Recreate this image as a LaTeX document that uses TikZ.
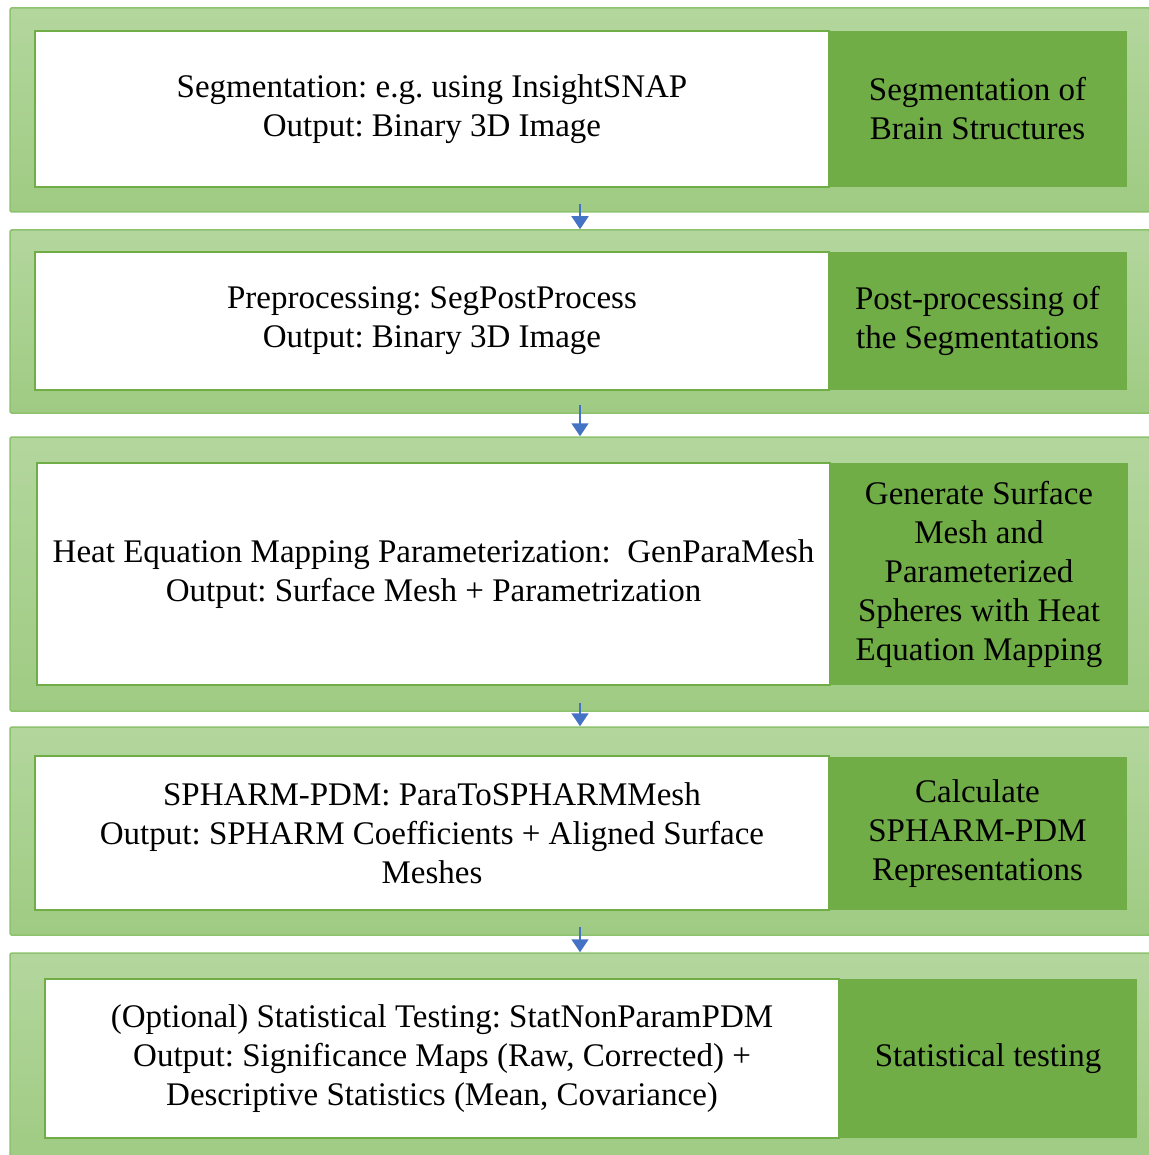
\documentclass[tikz,border=0pt]{standalone}
\usepackage{fontspec}
\setmainfont{Liberation Serif}
\usetikzlibrary{arrows.meta}
\definecolor{outerTop}{HTML}{B3D69D}
\definecolor{outerBot}{HTML}{9FCB83}
\definecolor{outerLine}{HTML}{8DC26F}
\definecolor{darkgreen}{HTML}{70AD47}
\definecolor{arrblue}{HTML}{4472C4}
\begin{document}
\frenchspacing
\begin{tikzpicture}[x=1pt,y=-1pt,
  outerbox/.style={inner sep=0pt, draw=outerLine, line width=1.5pt, top color=outerTop, bottom color=outerBot, rounded corners=1.5pt, minimum width=1140pt},
  whitebox/.style={inner sep=0pt, draw=darkgreen, fill=white, line width=2pt, align=center, font=\fontsize{33}{39}\selectfont, minimum width=794pt},
  darkbox/.style={inner sep=0pt, fill=darkgreen, align=center, font=\fontsize{33}{39}\selectfont, minimum width=298pt},
  arr/.style={draw=arrblue, line width=1.5pt, -{Triangle[width=17pt,length=13pt]}}]
\useasboundingbox (0,0) rectangle (1148,1155);
\fill[white] (0,0) rectangle (1148,1155);
% outer frames
\node[outerbox, minimum height=204pt] (o1) at (580,110) {};
\node[outerbox, minimum height=183pt] (o2) at (580,321.5) {};
\node[outerbox, minimum height=274pt] (o3) at (580,574) {};
\node[outerbox, minimum height=208pt] (o4) at (580,831) {};
\node[outerbox, minimum height=209pt] (o5) at (580,1057.5) {};
% step 1
\node[darkbox, minimum height=156pt] (d1) at (977.5,109) {Segmentation of\\Brain Structures};
\node[whitebox, minimum height=156pt] (w1) at (432,109) {Segmentation: e.g. using InsightSNAP\\Output: Binary 3D Image};
% step 2
\node[darkbox, minimum height=138pt] (d2) at (977.5,321) {Post-processing of\\the Segmentations};
\node[whitebox, minimum height=138pt] (w2) at (432,321) {Preprocessing: SegPostProcess\\Output: Binary 3D Image};
% step 3
\node[darkbox, minimum height=222pt] (d3) at (979,574) {Generate Surface\\Mesh and\\Parameterized\\Spheres with Heat\\Equation Mapping};
\node[whitebox, minimum height=222pt, minimum width=793pt] (w3) at (433.5,574) {Heat Equation Mapping Parameterization:\ \ GenParaMesh\\Output: Surface Mesh + Parametrization};
% step 4
\node[darkbox, minimum height=153pt] (d4) at (977.5,833.5) {Calculate\\SPHARM-PDM\\Representations};
\node[whitebox, minimum height=154pt] (w4) at (432,833) {SPHARM-PDM: ParaToSPHARMMesh\\Output: SPHARM Coefficients + Aligned Surface\\Meshes};
% step 5
\node[darkbox, minimum height=159pt] (d5) at (988,1058.5) {Statistical testing};
\node[whitebox, minimum height=159pt] (w5) at (442,1058.5) {(Optional) Statistical Testing: StatNonParamPDM\\Output: Significance Maps (Raw, Corrected) +\\Descriptive Statistics (Mean, Covariance)};
% arrows
\draw[arr] ([yshift=9pt]o1.south) -- (o2.north);
\draw[arr] ([yshift=9pt]o2.south) -- (o3.north);
\draw[arr] ([yshift=9pt]o3.south) -- (o4.north);
\draw[arr] ([yshift=9pt]o4.south) -- (o5.north);
\end{tikzpicture}
\end{document}
